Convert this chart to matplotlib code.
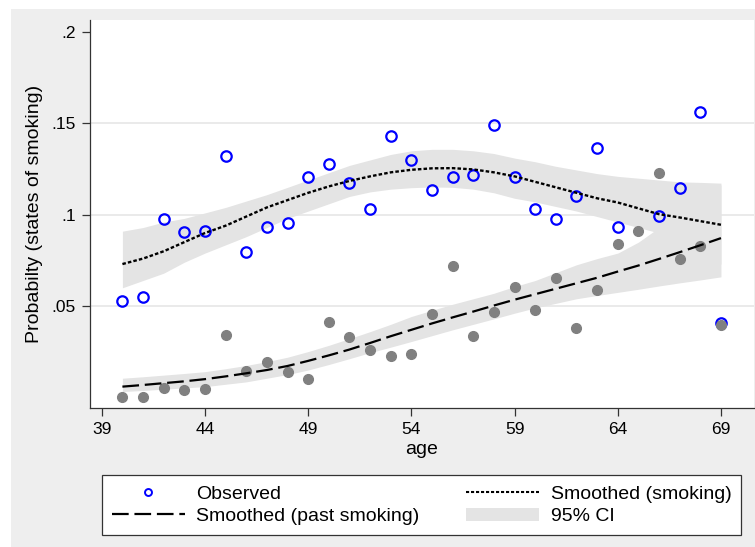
#!/usr/bin/python3

import matplotlib
matplotlib.use('Agg')
import matplotlib.pyplot as plt
from matplotlib.lines import Line2D
from matplotlib.patches import Patch, Rectangle
import numpy as np


# observed proportions by age
age = [40, 41, 42, 43, 44, 45, 46, 47, 48, 49, 50, 51, 52, 53, 54,
	55, 56, 57, 58, 59, 60, 61, 62, 63, 64, 65, 66, 67, 68, 69]

smoking_obs = [0.0528, 0.0547, 0.0976, 0.0905, 0.0912, 0.1321, 0.0797, 0.0934, 0.0957, 0.1207,
	0.1279, 0.1173, 0.1032, 0.1432, 0.1301, 0.1136, 0.1209, 0.1215, 0.1491, 0.1209,
	0.1034, 0.0976, 0.1104, 0.1363, 0.0932, np.nan, 0.0994, 0.1144, 0.1562, 0.0406]

past_obs = [0.0004, 0.0004, 0.0050, 0.0043, 0.0047, 0.0344, 0.0147, 0.0193, 0.0141, 0.0103,
	0.0413, 0.0328, 0.0260, 0.0229, 0.0236, 0.0457, 0.0720, 0.0338, 0.0470, 0.0607,
	0.0479, 0.0653, 0.0382, 0.0587, 0.0841, 0.0912, 0.1229, 0.0758, 0.0828, 0.0399]

# smoothed curves and 95% CI by age
smoking_fit = [0.0730, 0.0760, 0.0800, 0.0850, 0.0900, 0.0940, 0.0990, 0.1040, 0.1080, 0.1120,
	0.1155, 0.1185, 0.1210, 0.1232, 0.1246, 0.1254, 0.1255, 0.1248, 0.1232, 0.1210,
	0.1180, 0.1150, 0.1120, 0.1090, 0.1067, 0.1035, 0.1003, 0.0985, 0.0965, 0.0945]
smoking_lo = [0.0600, 0.0640, 0.0680, 0.0740, 0.0790, 0.0835, 0.0880, 0.0930, 0.0980, 0.1020,
	0.1060, 0.1100, 0.1125, 0.1140, 0.1148, 0.1152, 0.1150, 0.1140, 0.1120, 0.1090,
	0.1070, 0.1045, 0.1020, 0.0990, 0.0960, 0.0930, 0.0900, 0.0850, 0.0790, 0.0730]
smoking_hi = [0.0910, 0.0930, 0.0960, 0.0980, 0.1010, 0.1040, 0.1075, 0.1110, 0.1150, 0.1190,
	0.1230, 0.1270, 0.1300, 0.1330, 0.1350, 0.1358, 0.1358, 0.1350, 0.1335, 0.1310,
	0.1290, 0.1265, 0.1245, 0.1225, 0.1210, 0.1200, 0.1190, 0.1180, 0.1177, 0.1173]

past_fit = [0.0059, 0.0068, 0.0078, 0.0088, 0.0100, 0.0115, 0.0132, 0.0150, 0.0172, 0.0200,
	0.0230, 0.0262, 0.0298, 0.0335, 0.0370, 0.0405, 0.0438, 0.0470, 0.0503, 0.0535,
	0.0565, 0.0595, 0.0625, 0.0655, 0.0689, 0.0722, 0.0758, 0.0795, 0.0833, 0.0872]
past_lo = [0.0032, 0.0038, 0.0045, 0.0052, 0.0059, 0.0072, 0.0085, 0.0105, 0.0125, 0.0150,
	0.0180, 0.0212, 0.0245, 0.0275, 0.0306, 0.0338, 0.0370, 0.0400, 0.0430, 0.0461,
	0.0490, 0.0515, 0.0540, 0.0558, 0.0575, 0.0592, 0.0610, 0.0627, 0.0643, 0.0660]
past_hi = [0.0105, 0.0113, 0.0122, 0.0131, 0.0141, 0.0157, 0.0175, 0.0196, 0.0220, 0.0251,
	0.0285, 0.0322, 0.0360, 0.0400, 0.0443, 0.0477, 0.0510, 0.0540, 0.0570, 0.0607,
	0.0640, 0.0683, 0.0726, 0.0760, 0.0790, 0.0850, 0.0930, 0.1010, 0.1085, 0.1164]

x_ticks = [39, 44, 49, 54, 59, 64, 69]
y_ticks = [0.05, 0.1, 0.15, 0.2]
y_ticklabels = ['.05', '.1', '.15', '.2']


def main():
	''' main function'''

	plt.rcParams['font.family'] = ['Liberation Sans', 'DejaVu Sans']

	fig = plt.figure(facecolor='white')
	fig.set_size_inches(7.55, 5.47)

	# grey graph region (behind the axes)
	fig.patches.append(Rectangle((11 / 755, 0), 1, 1 - 9 / 547, transform=fig.transFigure,
		facecolor='#eeeeee', edgecolor='none', zorder=-5))

	ax = fig.add_axes([90 / 755, 1 - 408 / 547, 664 / 755, 388 / 547])
	ax.set_facecolor('white')

	band = '#e4e4e4'
	ax.fill_between(age, smoking_lo, smoking_hi, color=band, linewidth=0, zorder=1)
	ax.fill_between(age, past_lo, past_hi, color=band, linewidth=0, zorder=1)

	ax.plot(age, smoking_obs, linestyle='none', marker='o', markersize=7.5,
		markerfacecolor='none', markeredgecolor='blue', markeredgewidth=1.6, zorder=3)
	ax.plot(age, past_obs, linestyle='none', marker='o', markersize=7,
		markerfacecolor='gray', markeredgecolor='gray', zorder=4)

	ax.plot(age, smoking_fit, color='black', linewidth=1.7, dashes=(1.5, 0.9), zorder=5)
	ax.plot(age, past_fit, color='black', linewidth=1.6, dashes=(7.5, 2.6), zorder=5)

	ax.set_xlim(38.43, 70.6)
	ax.set_ylim(-0.0058, 0.2066)

	ax.set_xticks(x_ticks)
	ax.set_yticks(y_ticks)
	ax.set_yticklabels(y_ticklabels)
	ax.tick_params(labelsize=12.5, length=6, width=0.9, color='#333333', pad=4)

	ax.yaxis.grid(True, color='#e8e8e8', linewidth=1.3)
	ax.set_axisbelow(True)
	for g in ax.yaxis.get_gridlines()[-1:]:
		g.set_visible(False)

	for side in ['top', 'right']:
		ax.spines[side].set_visible(False)
	for side in ['left', 'bottom']:
		ax.spines[side].set_color('#333333')
		ax.spines[side].set_linewidth(0.9)

	ax.set_xlabel('age', fontsize=14, labelpad=3)
	ax.set_ylabel('Probabilty (states of smoking)', fontsize=14, labelpad=6)

	# legend
	handles = [
		Line2D([], [], linestyle='none', marker='o', markersize=5, markerfacecolor='none',
			markeredgecolor='blue', markeredgewidth=1.4),
		Line2D([], [], color='black', linewidth=1.6, dashes=(7.5, 2.6)),
		Line2D([], [], color='black', linewidth=1.5, dashes=(1.5, 0.9)),
		Patch(facecolor=band, edgecolor='none'),
	]
	labels = ['Observed', 'Smoothed (past smoking)', 'Smoothed (smoking)', '95% CI']
	leg = fig.legend(handles, labels, loc='lower left', ncol=2, mode='expand',
		bbox_to_anchor=(102 / 755, 1 - 535 / 547, 639 / 755, 63 / 547), bbox_transform=fig.transFigure,
		fontsize=14, frameon=True, fancybox=False, framealpha=1, handlelength=3.75, handletextpad=0.6,
		labelspacing=0.25, borderpad=0.5, borderaxespad=0)
	leg.get_frame().set_edgecolor('#333333')
	leg.get_frame().set_linewidth(0.9)

	plt.savefig('out.png', dpi=100, facecolor=fig.get_facecolor())
	plt.close()

	return


if __name__ == '__main__':
	main()
